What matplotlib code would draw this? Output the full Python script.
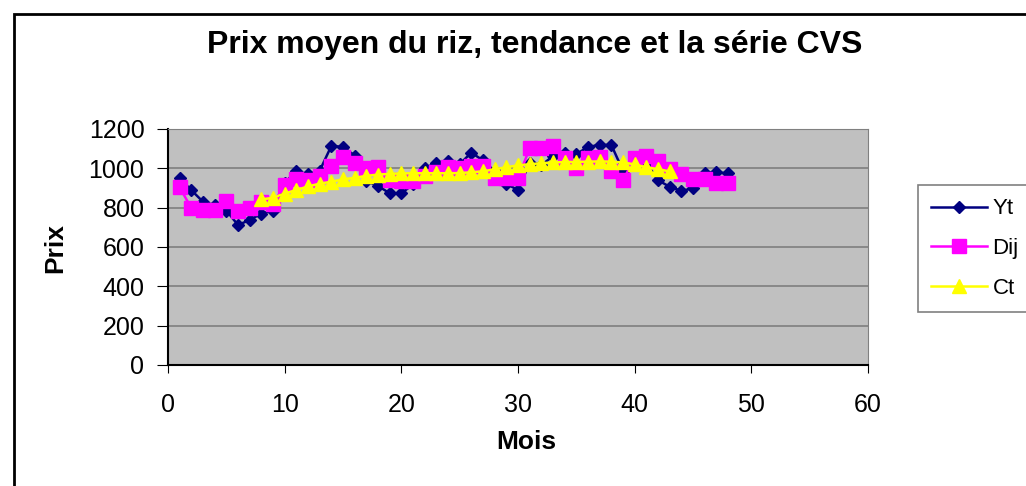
import numpy as np
import matplotlib
matplotlib.use('Agg')
import matplotlib.pyplot as plt
from matplotlib.patches import Rectangle

plt.rcParams['font.family'] = ['Liberation Sans', 'DejaVu Sans']

# Mois (1..48)
mois = list(range(1, 49))

# Yt : prix moyen du riz
yt = [950, 889, 830, 813, 785, 712, 737, 770, 785, 925,
      987, 970, 987, 1114, 1109, 1065, 935, 911, 873, 873,
      918, 1000, 1029, 1036, 1021, 1080, 1040, 985, 922, 889,
      1029, 1015, 1063, 1080, 1072, 1109, 1119, 1119, 987, 1058,
      1029, 940, 906, 886, 898, 975, 979, 975]

# Dij : serie CVS
dij = [903, 798, 788, 788, 832, 785, 798, 830, 820, 916,
       945, 940, 962, 1010, 1060, 1029, 1004, 1009, 940, 937,
       937, 962, 979, 1008, 1000, 1013, 1013, 949, 949, 949,
       1102, 1102, 1114, 1055, 1004, 1050, 1060, 987, 940, 1051,
       1063, 1038, 996, 970, 945, 948, 925, 925]

# Ct : tendance (moyenne mobile), mois 8..43
mois_ct = list(range(8, 44))
ct = [842, 850, 872, 890, 908, 922, 932, 944, 952, 962,
      968, 972, 974, 975, 975, 975, 975, 976, 980, 985,
      995, 1006, 1015, 1021, 1026, 1030, 1032, 1033, 1034, 1035,
      1034, 1030, 1020, 1005, 996, 984]

fig = plt.figure(figsize=(10.26, 4.86), dpi=100)
ax = fig.add_axes([168 / 1026, 1 - 365 / 486, 700 / 1026, 236 / 486])
ax.set_facecolor('#C0C0C0')

ax.plot(mois, yt, color='#000080', marker='D', markersize=6.5, linewidth=1.8, label='Yt', zorder=3)
ax.plot(mois, dij, color='#FF00FF', marker='s', markersize=9.5, linewidth=1.8, label='Dij', zorder=4)
ax.plot(mois_ct, ct, color='#FFFF00', marker='^', markersize=9.5, linewidth=1.8, label='Ct', zorder=5)

ax.set_xlim(0, 60)
ax.set_ylim(0, 1200)
ax.set_xticks(range(0, 61, 10))
ax.set_yticks(range(0, 1201, 200))
ax.yaxis.grid(True, color='#7F7F7F', linewidth=1.2)
ax.set_axisbelow(True)

for s in ['top', 'right']:
    ax.spines[s].set_color('#808080')
for s in ['left', 'bottom']:
    ax.spines[s].set_color('black')
    ax.spines[s].set_linewidth(1.5)

ax.tick_params(axis='y', labelsize=18, length=8, pad=9, direction='out')
ax.tick_params(axis='x', labelsize=18, length=6, pad=14, direction='out')

fig.text(55 / 1026, 1 - 248 / 486, 'Prix', rotation=90, fontsize=19, fontweight='bold',
         ha='center', va='center')
fig.text(526 / 1026, 1 - 442 / 486, 'Mois', fontsize=19, fontweight='bold',
         ha='center', va='center')
fig.text(535 / 1026, 1 - 45 / 486, 'Prix moyen du riz, tendance et la série CVS',
         fontsize=23, fontweight='bold', ha='center', va='center')

leg = fig.legend(loc='upper left', bbox_to_anchor=(918 / 1026, 1 - 185 / 486),
                 borderaxespad=0, fontsize=16, fancybox=False, edgecolor='#808080',
                 framealpha=1, handlelength=2.5, labelspacing=0.85, borderpad=0.6,
                 handletextpad=0.25)
leg.get_frame().set_linewidth(1.2)

# cadre du graphique
fig.patches.append(Rectangle((14 / 1026, -0.1), 1.2, 1 - 14 / 486 + 0.1,
                             transform=fig.transFigure, fill=False,
                             edgecolor='black', linewidth=2))

fig.savefig('out.png', dpi=100)
